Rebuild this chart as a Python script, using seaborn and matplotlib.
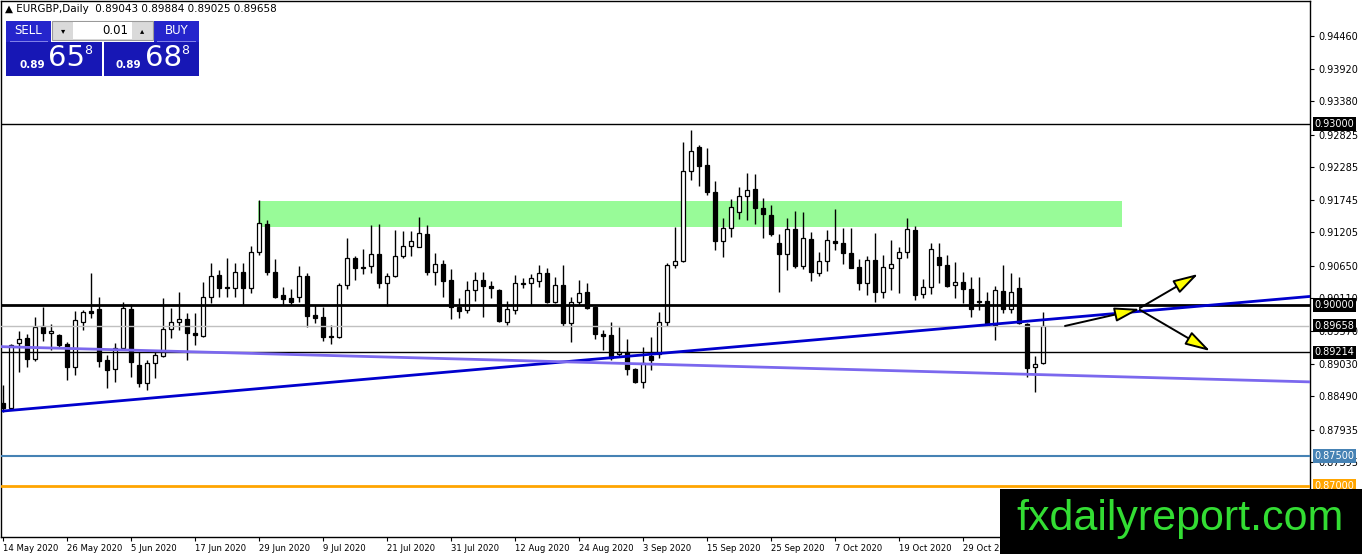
import matplotlib
matplotlib.use("Agg")
import matplotlib.pyplot as plt
import seaborn as sns
import numpy as np
import pandas as pd
from matplotlib.patches import Rectangle

# ---------------- data ----------------
opens = [
    0.88375, 0.88292, 0.89370, 0.89453, 0.89105, 0.89652, 0.89536, 0.89503, 0.89353, 0.88972,
    0.89718, 0.89901, 0.89934, 0.89088, 0.88939, 0.89287, 0.89934, 0.89005, 0.88707, 0.89038,
    0.89154, 0.89602, 0.89718, 0.89768, 0.89536, 0.89486, 0.90133, 0.90497, 0.90298, 0.90282,
    0.90547, 0.90282, 0.90879, 0.91343, 0.90547, 0.90166, 0.90116, 0.90133, 0.90481, 0.89834,
    0.89801, 0.89486, 0.89469, 0.90332, 0.90779, 0.90630, 0.90647, 0.90846, 0.90365, 0.90481,
    0.90812, 0.90978, 0.90962, 0.91177, 0.90547, 0.90680, 0.90415, 0.89967, 0.89917, 0.90249,
    0.90415, 0.90315, 0.90249, 0.89718, 0.89917, 0.90365, 0.90365, 0.90398, 0.90531, 0.90050,
    0.90332, 0.89702, 0.90050, 0.90216, 0.89967, 0.89519, 0.89503, 0.89188, 0.89221, 0.88939,
    0.88723, 0.89154, 0.89188, 0.89718, 0.90663, 0.90730, 0.92222, 0.92620, 0.92321, 0.91874,
    0.91061, 0.91277, 0.91542, 0.91807, 0.91923, 0.91608, 0.91492, 0.91028, 0.90846, 0.91260,
    0.90647, 0.91094, 0.90531, 0.90730, 0.91061, 0.91028, 0.90862, 0.90630, 0.90365, 0.90746,
    0.90216, 0.90613, 0.90779, 0.90879, 0.91244, 0.90182, 0.90298, 0.90796, 0.90663, 0.90332,
    0.90381, 0.90265, 0.90066, 0.90066, 0.89668, 0.90232, 0.89934, 0.90282, 0.89685, 0.88972,
    0.89043]
highs = [
    0.88674, 0.89353, 0.89569, 0.89519, 0.89801, 0.89967, 0.89685, 0.89519, 0.89387, 0.89901,
    0.89917, 0.90531, 0.90133, 0.89171, 0.89370, 0.90050, 0.90017, 0.89221, 0.89088, 0.89254,
    0.90116, 0.89950, 0.90216, 0.89867, 0.89867, 0.90381, 0.90696, 0.90580, 0.90779, 0.90696,
    0.90696, 0.90978, 0.91741, 0.91409, 0.90763, 0.90298, 0.90265, 0.90647, 0.90531, 0.90000,
    0.89967, 0.89668, 0.90365, 0.91111, 0.90812, 0.90928, 0.91326, 0.91343, 0.90531, 0.91244,
    0.91227, 0.91227, 0.91459, 0.91326, 0.90862, 0.90746, 0.90597, 0.90116, 0.90398, 0.90547,
    0.90547, 0.90398, 0.90265, 0.90066, 0.90497, 0.90448, 0.90514, 0.90663, 0.90613, 0.90464,
    0.90663, 0.90133, 0.90415, 0.90365, 0.89983, 0.89586, 0.89718, 0.89635, 0.89436, 0.88955,
    0.89304, 0.89469, 0.89884, 0.90696, 0.91293, 0.92703, 0.92902, 0.92653, 0.92603, 0.92056,
    0.91442, 0.91757, 0.91956, 0.92189, 0.92172, 0.91774, 0.91658, 0.91177, 0.91442, 0.91559,
    0.91542, 0.91210, 0.90879, 0.91244, 0.91592, 0.91277, 0.91277, 0.90763, 0.90812, 0.91194,
    0.90829, 0.91078, 0.90962, 0.91442, 0.91310, 0.90431, 0.91028, 0.91028, 0.90829, 0.90713,
    0.90547, 0.90464, 0.90464, 0.90216, 0.90315, 0.90663, 0.90531, 0.90464, 0.89702, 0.89154,
    0.89884]
lows = [
    0.88226, 0.88259, 0.88889, 0.88972, 0.89072, 0.89403, 0.89254, 0.89287, 0.88757, 0.88839,
    0.89586, 0.89784, 0.88972, 0.88624, 0.88723, 0.89254, 0.88806, 0.88640, 0.88591, 0.88790,
    0.89138, 0.89453, 0.89586, 0.89088, 0.89337, 0.89469, 0.90033, 0.90133, 0.90133, 0.90133,
    0.90000, 0.90199, 0.90829, 0.90497, 0.90116, 0.90000, 0.90000, 0.90050, 0.89635, 0.89702,
    0.89403, 0.89353, 0.89453, 0.90265, 0.90415, 0.90514, 0.90531, 0.90282, 0.89983, 0.90464,
    0.90779, 0.90812, 0.90962, 0.90497, 0.90332, 0.90133, 0.89768, 0.89784, 0.89867, 0.90066,
    0.89801, 0.90116, 0.89718, 0.89668, 0.89851, 0.90282, 0.90000, 0.90298, 0.90033, 0.90033,
    0.89652, 0.89387, 0.90000, 0.89934, 0.89436, 0.89254, 0.89088, 0.89138, 0.88839, 0.88707,
    0.88624, 0.88922, 0.89121, 0.89652, 0.90613, 0.90713, 0.92073, 0.91973, 0.91824, 0.90912,
    0.90796, 0.91127, 0.91426, 0.91409, 0.91343, 0.91111, 0.91144, 0.90216, 0.90580, 0.90613,
    0.90597, 0.90398, 0.90481, 0.90564, 0.90912, 0.90680, 0.90613, 0.90249, 0.90166, 0.90050,
    0.90116, 0.90249, 0.90199, 0.90779, 0.90083, 0.90116, 0.90182, 0.90365, 0.90298, 0.90116,
    0.90033, 0.89801, 0.89917, 0.89668, 0.89420, 0.89867, 0.89867, 0.89685, 0.88806, 0.88558,
    0.89025]
closes = [
    0.88292, 0.89337, 0.89436, 0.89105, 0.89635, 0.89536, 0.89569, 0.89337, 0.88972, 0.89751,
    0.89884, 0.89867, 0.89072, 0.88922, 0.89287, 0.89950, 0.89055, 0.88707, 0.89038, 0.89171,
    0.89602, 0.89718, 0.89768, 0.89536, 0.89503, 0.90133, 0.90481, 0.90282, 0.90282, 0.90547,
    0.90282, 0.90879, 0.91360, 0.90547, 0.90133, 0.90099, 0.90050, 0.90481, 0.89818, 0.89784,
    0.89469, 0.89469, 0.90332, 0.90779, 0.90613, 0.90613, 0.90846, 0.90365, 0.90481, 0.90812,
    0.90978, 0.91061, 0.91194, 0.90547, 0.90680, 0.90398, 0.89967, 0.89901, 0.90249, 0.90415,
    0.90315, 0.90282, 0.89735, 0.89934, 0.90365, 0.90348, 0.90448, 0.90531, 0.90050, 0.90332,
    0.89702, 0.90050, 0.90199, 0.89950, 0.89519, 0.89486, 0.89121, 0.89221, 0.88939, 0.88723,
    0.89038, 0.89088, 0.89718, 0.90663, 0.90730, 0.92222, 0.92553, 0.92305, 0.91874, 0.91061,
    0.91277, 0.91625, 0.91807, 0.91907, 0.91608, 0.91509, 0.91177, 0.90846, 0.91260, 0.90647,
    0.91111, 0.90547, 0.90730, 0.91078, 0.91028, 0.90862, 0.90613, 0.90365, 0.90746, 0.90216,
    0.90630, 0.90680, 0.90879, 0.91260, 0.90166, 0.90298, 0.90928, 0.90663, 0.90315, 0.90381,
    0.90265, 0.89934, 0.90050, 0.89668, 0.90249, 0.89934, 0.90216, 0.89702, 0.88955, 0.89022,
    0.89658]

date_labels = ["14 May 2020", "26 May 2020", "5 Jun 2020", "17 Jun 2020", "29 Jun 2020",
               "9 Jul 2020", "21 Jul 2020", "31 Jul 2020", "12 Aug 2020", "24 Aug 2020",
               "3 Sep 2020", "15 Sep 2020", "25 Sep 2020", "7 Oct 2020", "19 Oct 2020",
               "29 Oct 2020"]
date_label_bars = [0, 8, 16, 24, 32, 40, 48, 56, 64, 72, 80, 88, 96, 104, 112, 120]

price_ticks = [0.94460, 0.93920, 0.93380, 0.92825, 0.92285, 0.91745, 0.91205, 0.90650,
               0.90110, 0.89570, 0.89030, 0.88490, 0.87935, 0.87395]

level_values = [0.93000, 0.90000, 0.89658, 0.89214, 0.87500, 0.87000]
level_colors = ["black", "black", "#C0C0C0", "black", "#4682B4", "#FFA500"]
level_widths = [1.0, 2.0, 1.0, 1.0, 1.5, 2.0]
level_box_colors = ["black", "black", "black", "black", "#4682B4", "#FFA500"]

zone_bars = [31.9, 139.9]
zone_prices = [0.91293, 0.91724]

blue_trend_bars = [0, 164]
blue_trend_prices = [0.88242, 0.90149]
purple_trend_bars = [-0.4, 164]
purple_trend_prices = [0.89310, 0.88723]

arrow_starts = [(132.75, 0.89652), (142.1, 0.89950), (142.1, 0.89920)]
arrow_ends = [(142.1, 0.89934), (149.4, 0.90514), (150.9, 0.89237)]

header = "\u25B2 EURGBP,Daily  0.89043 0.89884 0.89025 0.89658"

# ---------------- figure ----------------
sns.set_theme(style="white")
plt.rcParams["font.family"] = ["DejaVu Sans"]

W, H = 1362, 554
fig = plt.figure(figsize=(W / 100, H / 100), dpi=100, facecolor="white")
ax = fig.add_axes([1 / W, (H - 537) / H, (1310 - 1) / W, (537 - 1) / H])
ax.set_facecolor("white")

df = pd.DataFrame({"open": opens, "high": highs, "low": lows, "close": closes})
df["bar"] = np.arange(len(df))
df["bull"] = df["close"] >= df["open"]
df["bottom"] = df[["open", "close"]].min(axis=1)
df["height"] = (df["close"] - df["open"]).abs().clip(lower=0.00003)

# zone
ax.fill_between(zone_bars, zone_prices[0], zone_prices[1], color="#98FB98", lw=0, zorder=1)

# candles
ax.vlines(df["bar"], df["low"], df["high"], color="black", lw=1, zorder=3)
bull = df[df["bull"]]
bear = df[~df["bull"]]
ax.bar(bull["bar"], bull["height"], bottom=bull["bottom"], width=0.6,
       color="white", edgecolor="black", linewidth=0.9, zorder=4)
ax.bar(bear["bar"], bear["height"], bottom=bear["bottom"], width=0.6,
       color="black", edgecolor="black", linewidth=0.9, zorder=4)

# horizontal levels
for v, c, w in zip(level_values, level_colors, level_widths):
    ax.axhline(v, color=c, lw=w, zorder=5)

# trend lines
sns.lineplot(x=blue_trend_bars, y=blue_trend_prices, ax=ax, color="#0000CD", lw=2, zorder=6)
sns.lineplot(x=purple_trend_bars, y=purple_trend_prices, ax=ax, color="#7B68EE", lw=2, zorder=6)

# arrows
for s, e in zip(arrow_starts, arrow_ends):
    ax.annotate("", xy=e, xytext=s,
                arrowprops=dict(arrowstyle="-|>,head_length=1.4,head_width=0.4",
                                fc="#FFFF00", ec="black", lw=1.4,
                                shrinkA=0, shrinkB=0, mutation_scale=11),
                zorder=7)

ax.set_xlim(-0.25, 163.375)
ax.set_ylim(0.86154, 0.95039)

# axes styling
for sp in ax.spines.values():
    sp.set_visible(True)
    sp.set_color("black")
    sp.set_linewidth(1)
ax.yaxis.tick_right()
ax.set_yticks(price_ticks)
ax.set_yticklabels([f"{v:.5f}" for v in price_ticks])
ax.set_xticks(date_label_bars)
ax.set_xticklabels(date_labels, ha="left")
ax.tick_params(axis="both", length=3, width=0.8, color="black",
               labelcolor="black", direction="out")
ax.tick_params(axis="x", bottom=True, labelsize=6.1, pad=2)
ax.tick_params(axis="y", right=True, left=False, labelsize=7, pad=3)
ax.set_xlabel("")
ax.set_ylabel("")
ax.grid(False)

for v, c in zip(level_values, level_box_colors):
    ax.text(1.0035, v, f"{v:.5f}", transform=ax.get_yaxis_transform(), ha="left", va="center",
            fontsize=7, color="white", zorder=10,
            bbox=dict(boxstyle="square,pad=0.18", fc=c, ec="none"))

# ---------------- overlays (figure pixel coords) ----------------
def frect(x0, y0, x1, y1, **kw):
    fig.patches.append(Rectangle((x0 / W, 1 - y1 / H), (x1 - x0) / W, (y1 - y0) / H,
                                 transform=fig.transFigure, **kw))

def ftext(x, y, s, **kw):
    fig.text(x / W, 1 - y / H, s, **kw)

ftext(5, 9, header, fontsize=7.5, va="center", ha="left", color="black")

blue_btn = "#2525CC"
blue_box = "#1717B5"
frect(6, 21, 51, 42, fc=blue_btn, ec="none")
frect(154, 21, 199, 42, fc=blue_btn, ec="none")
frect(10, 41, 48, 42.2, fc="#8080E8", ec="none")
frect(157, 41, 196, 42.2, fc="#8080E8", ec="none")
ftext(28.5, 31, "SELL", fontsize=8.5, color="white", ha="center", va="center")
ftext(176.5, 31, "BUY", fontsize=8.5, color="white", ha="center", va="center")
frect(52, 21, 153, 40, fc="#DADADA", ec="#9A9A9A", lw=0.8)
frect(73, 22, 132, 39, fc="white", ec="none")
ftext(63, 30.5, "\u25BE", fontsize=6, color="black", ha="center", va="center")
ftext(142.5, 30.5, "\u25B4", fontsize=6, color="black", ha="center", va="center")
ftext(128, 30.5, "0.01", fontsize=8.5, color="black", ha="right", va="center")

frect(6, 42, 102, 76, fc=blue_box, ec="none")
frect(104, 42, 199, 76, fc=blue_box, ec="none")
ftext(19, 64.5, "0.89", fontsize=7.5, weight="bold", color="white", ha="left", va="center")
ftext(48, 58.5, "65", fontsize=21, color="white", ha="left", va="center")
ftext(84, 50.5, "8", fontsize=9, color="white", ha="left", va="center")
ftext(116, 64.5, "0.89", fontsize=7.5, weight="bold", color="white", ha="left", va="center")
ftext(145, 58.5, "68", fontsize=21, color="white", ha="left", va="center")
ftext(181, 50.5, "8", fontsize=9, color="white", ha="left", va="center")

# watermark
frect(1000, 489, 1362, 554, fc="black", ec="none")
ftext(1180, 519, "fxdailyreport.com", fontsize=31, color="#33DD33", ha="center", va="center",
      family=["Liberation Sans", "DejaVu Sans"])

fig.savefig("out.png", dpi=100, facecolor="white")
